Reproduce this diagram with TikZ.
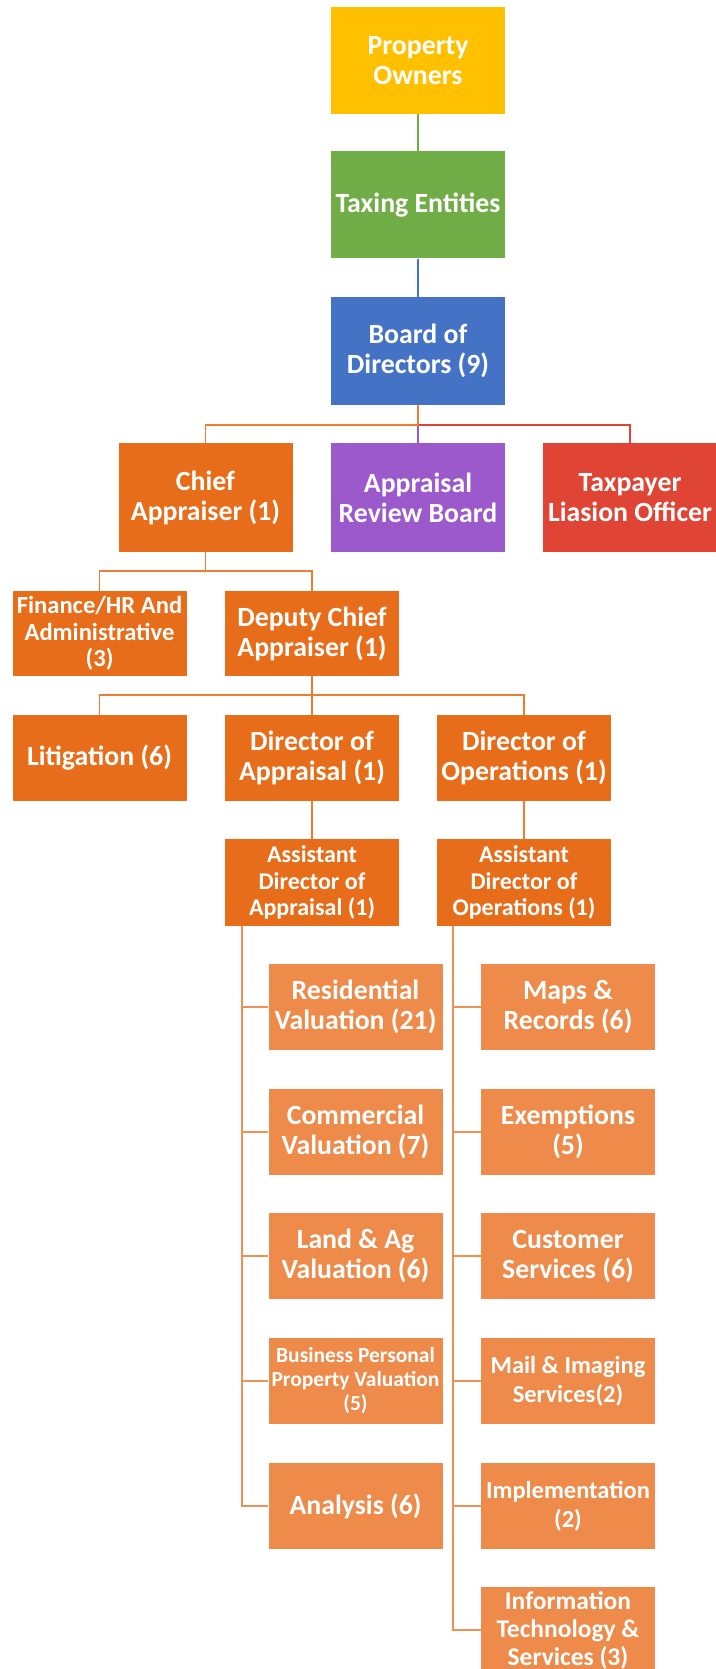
\documentclass[tikz,border=0pt]{standalone}
\usepackage{fontspec}
\setmainfont{Carlito}
\definecolor{cyellow}{HTML}{FFC000}
\definecolor{cgreen}{HTML}{70AD47}
\definecolor{cblue}{HTML}{4472C4}
\definecolor{corange}{HTML}{E86D1A}
\definecolor{cpurple}{HTML}{9B59CC}
\definecolor{cred}{HTML}{E04434}
\definecolor{clight}{HTML}{EE8B4A}
\definecolor{cline}{HTML}{ED7D31}
\definecolor{clightline}{HTML}{EE9155}
\tikzset{
  unit/.style={rectangle, inner sep=0pt, minimum width=174, text=white,
    align=center, font=\bfseries\fontsize{27.8}{30}\selectfont},
  tall/.style={unit, minimum height=107},
  mid/.style={unit, minimum height=86},
  small/.style={font=\bfseries\fontsize{24.6}{26.5}\selectfont},
  smaller/.style={font=\bfseries\fontsize{24}{26.5}\selectfont},
  tiny/.style={font=\bfseries\fontsize{21.5}{24}\selectfont},
  right/.style={font=\bfseries\fontsize{24.5}{29}\selectfont},
  link/.style={line width=1.6pt},
  sublink/.style={line width=1.5pt, draw=clightline},
}
\begin{document}
\begin{tikzpicture}[x=1pt, y=-1pt]
\useasboundingbox (0,0) rectangle (715,1669);
\fill[white] (0,0) rectangle (715,1669);

% governance levels
\node[tall, fill=cyellow] (po) at (418,60.5) {Property\\Owners};
\node[tall, fill=cgreen] (te) at (418,205) {Taxing Entities};
\node[tall, fill=cblue] (bd) at (418,351) {Board of\\Directors (9)};

\node[tall, minimum height=109, fill=corange] (chief) at (205.5,497.5) {Chief\\Appraiser (1)};
\node[tall, minimum height=109, fill=cpurple] (arb) at (418,497.5) {Appraisal\\Review Board};
\node[tall, minimum height=109, fill=cred] (tlo) at (630,497.5) {Taxpayer\\Liasion Officer};

% executive level
\node[mid, minimum height=85, fill=corange, small] (fin) at (99.5,633.5) {Finance/HR And\\Administrative\\(3)};
\node[mid, minimum height=85, fill=corange] (dep) at (312,633.5) {Deputy Chief\\Appraiser (1)};

\node[mid, fill=corange] (lit) at (99.5,758) {Litigation (6)};
\node[mid, fill=corange] (dira) at (312,758) {Director of\\Appraisal (1)};
\node[mid, fill=corange] (diro) at (524,758) {Director of\\Operations (1)};

\node[mid, minimum height=87, fill=corange, smaller] (assta) at (312,882.5) {Assistant\\Director of\\Appraisal (1)};
\node[mid, minimum height=87, fill=corange, smaller] (assto) at (524,882.5) {Assistant\\Director of\\Operations (1)};

% appraisal departments
\node[mid, fill=clight] (res) at (355.5,1007) {Residential\\Valuation (21)};
\node[mid, fill=clight] (com) at (355.5,1132) {Commercial\\Valuation (7)};
\node[mid, fill=clight] (land) at (355.5,1256) {Land \& Ag\\Valuation (6)};
\node[mid, fill=clight, tiny] (bpp) at (355.5,1381) {Business Personal\\Property Valuation\\(5)};
\node[mid, fill=clight] (ana) at (355.5,1506) {Analysis (6)};

% operations departments
\node[mid, fill=clight] (maps) at (568,1007) {Maps \&\\Records (6)};
\node[mid, fill=clight] (exm) at (568,1132) {Exemptions\\(5)};
\node[mid, fill=clight] (cus) at (568,1256) {Customer\\Services (6)};
\node[mid, fill=clight, right] (mail) at (568,1381) {Mail \& Imaging\\Services(2)};
\node[mid, fill=clight, right] (imp) at (568,1506) {Implementation\\(2)};
\node[mid, fill=clight, font=\bfseries\fontsize{25.5}{28}\selectfont] (it) at (568,1630) {Information\\Technology \&\\Services (3)};

% connectors
\draw[link, cgreen] (po.south) -- (te.north);
\draw[link, cblue] (te.south) -- (bd.north);
\draw[link, cpurple] (bd.south) -- (arb.north);
\draw[link, cred] (bd.south) ++(0,20) -| (tlo.north);
\draw[link, cline] (bd.south) -- ++(0,20) -| (chief.north);

\draw[link, cline] (chief.south) -- ++(0,19) -| (fin.north);
\draw[link, cline] (chief.south) ++(0,19) -| (dep.north);

\draw[link, cline] (dep.south) -- ++(0,19) -| (lit.north);
\draw[link, cline] (dep.south) -- (dira.north);
\draw[link, cline] (dep.south) ++(0,19) -| (diro.north);

\draw[link, cline] (dira.south) -- (assta.north);
\draw[link, cline] (diro.south) -- (assto.north);

\foreach \d in {res,com,land,bpp,ana}
  \draw[sublink] (assta.south west) ++(17,0) |- (\d.west);
\foreach \d in {maps,exm,cus,mail,imp,it}
  \draw[sublink] (assto.south west) ++(16,0) |- (\d.west);
\end{tikzpicture}
\end{document}
